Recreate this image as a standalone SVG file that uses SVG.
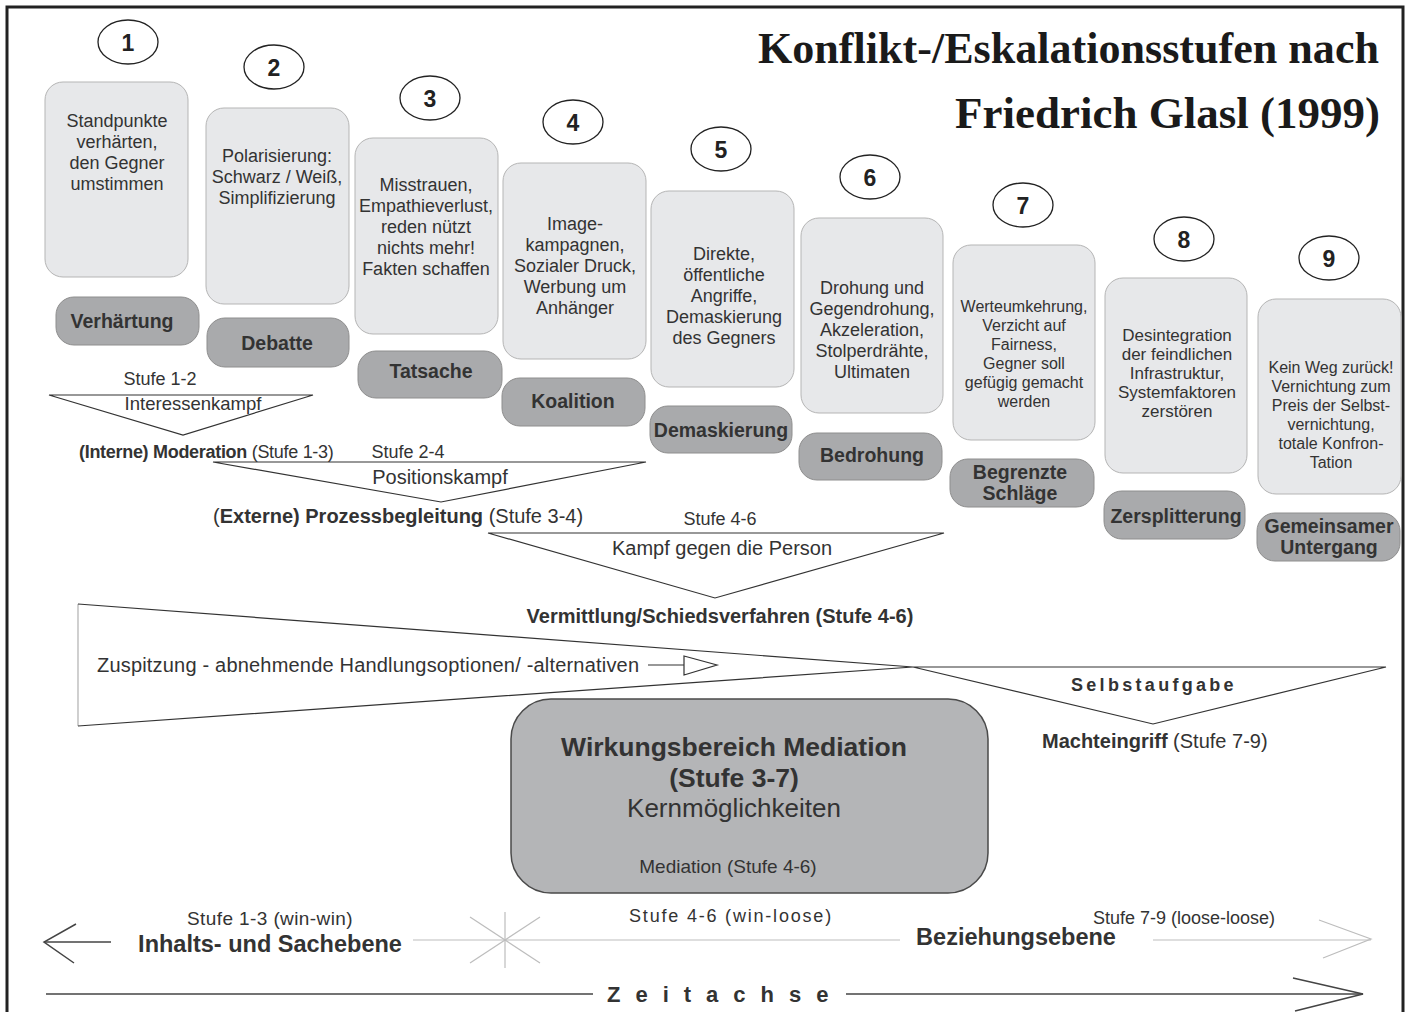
<svg xmlns="http://www.w3.org/2000/svg" width="1409" height="1012" viewBox="0 0 1409 1012">
<style>
text{font-family:"Liberation Sans",Arial,Helvetica,sans-serif;fill:#333}
.t{font-family:"Liberation Serif","Times New Roman",serif;font-weight:bold;font-size:45px;fill:#1a1a1a;text-anchor:end}
.num{font-weight:bold;font-size:23px;text-anchor:middle;fill:#222}
.ell{fill:#fff;stroke:#222;stroke-width:1.3}
.desc{fill:#e7e8ea;stroke:#b5b5b5;stroke-width:1}
.d18{font-size:18px;text-anchor:middle}
.d17{font-size:17px;text-anchor:middle}
.d16{font-size:16px;text-anchor:middle}
.lab{fill:#a9aaac;stroke:#8e8e8e;stroke-width:1}
.lt{font-size:19.5px;font-weight:bold;text-anchor:middle;fill:#333}
.tri{fill:none;stroke:#333;stroke-width:1.2}
.b{font-weight:bold}
.mid{text-anchor:middle}
.lg{stroke:#bdbdbd;stroke-width:1.2;fill:none}
.dk{stroke:#444;stroke-width:1.5;fill:none}
</style>

<rect x="7" y="7" width="1396" height="1020" fill="#fff" stroke="#222" stroke-width="3"/>

<g id="title">
<text class="t" x="1379" y="63" textLength="621" lengthAdjust="spacingAndGlyphs">Konflikt-/Eskalationsstufen nach</text>
<text class="t" x="1380" y="128">Friedrich Glasl (1999)</text>
</g>

<g id="stufe1">
<ellipse class="ell" cx="128" cy="42" rx="30" ry="22"/><text class="num" x="128" y="51">1</text>
<rect class="desc" x="45" y="82" width="143" height="195" rx="18"/>
<text class="d18" x="117"><tspan x="117" y="127">Standpunkte</tspan><tspan x="117" y="148">verhärten,</tspan><tspan x="117" y="169">den Gegner</tspan><tspan x="117" y="190">umstimmen</tspan></text>
<rect class="lab" x="56" y="297" width="143" height="48" rx="18"/><text class="lt" x="122" y="328">Verhärtung</text>
</g>

<g id="stufe2">
<ellipse class="ell" cx="274" cy="67" rx="30" ry="22"/><text class="num" x="274" y="76">2</text>
<rect class="desc" x="206" y="108" width="143" height="196" rx="18"/>
<text class="d18" x="277"><tspan x="277" y="162">Polarisierung:</tspan><tspan x="277" y="183">Schwarz / Weiß,</tspan><tspan x="277" y="204">Simplifizierung</tspan></text>
<rect class="lab" x="207" y="318" width="142" height="49" rx="18"/><text class="lt" x="277" y="350">Debatte</text>
</g>

<g id="stufe3">
<ellipse class="ell" cx="430" cy="98" rx="30" ry="22"/><text class="num" x="430" y="107">3</text>
<rect class="desc" x="355" y="138" width="143" height="196" rx="18"/>
<text class="d18" x="426"><tspan x="426" y="191">Misstrauen,</tspan><tspan x="426" y="212">Empathieverlust,</tspan><tspan x="426" y="233">reden nützt</tspan><tspan x="426" y="254">nichts mehr!</tspan><tspan x="426" y="275">Fakten schaffen</tspan></text>
<rect class="lab" x="358" y="351" width="144" height="47" rx="18"/><text class="lt" x="431" y="378">Tatsache</text>
</g>

<g id="stufe4">
<ellipse class="ell" cx="573" cy="122" rx="30" ry="22"/><text class="num" x="573" y="131">4</text>
<rect class="desc" x="503" y="163" width="143" height="196" rx="18"/>
<text class="d18" x="575"><tspan x="575" y="230">Image-</tspan><tspan x="575" y="251">kampagnen,</tspan><tspan x="575" y="272">Sozialer Druck,</tspan><tspan x="575" y="293">Werbung um</tspan><tspan x="575" y="314">Anhänger</tspan></text>
<rect class="lab" x="502" y="378" width="143" height="48" rx="18"/><text class="lt" x="573" y="408">Koalition</text>
</g>

<g id="stufe5">
<ellipse class="ell" cx="721" cy="149" rx="30" ry="22"/><text class="num" x="721" y="158">5</text>
<rect class="desc" x="651" y="191" width="143" height="196" rx="18"/>
<text class="d18" x="724"><tspan x="724" y="260">Direkte,</tspan><tspan x="724" y="281">öffentliche</tspan><tspan x="724" y="302">Angriffe,</tspan><tspan x="724" y="323">Demaskierung</tspan><tspan x="724" y="344">des Gegners</tspan></text>
<rect class="lab" x="650" y="406" width="142" height="47" rx="18"/><text class="lt" x="721" y="437">Demaskierung</text>
</g>

<g id="stufe6">
<ellipse class="ell" cx="870" cy="177" rx="30" ry="22"/><text class="num" x="870" y="186">6</text>
<rect class="desc" x="801" y="218" width="142" height="195" rx="18"/>
<text class="d18" x="872"><tspan x="872" y="294">Drohung und</tspan><tspan x="872" y="315">Gegendrohung,</tspan><tspan x="872" y="336">Akzeleration,</tspan><tspan x="872" y="357">Stolperdrähte,</tspan><tspan x="872" y="378">Ultimaten</tspan></text>
<rect class="lab" x="799" y="433" width="143" height="47" rx="18"/><text class="lt" x="872" y="462">Bedrohung</text>
</g>

<g id="stufe7">
<ellipse class="ell" cx="1023" cy="205" rx="30" ry="22"/><text class="num" x="1023" y="214">7</text>
<rect class="desc" x="953" y="245" width="142" height="195" rx="18"/>
<text class="d16" x="1024"><tspan x="1024" y="312">Werteumkehrung,</tspan><tspan x="1024" y="331">Verzicht auf</tspan><tspan x="1024" y="350">Fairness,</tspan><tspan x="1024" y="369">Gegner soll</tspan><tspan x="1024" y="388">gefügig gemacht</tspan><tspan x="1024" y="407">werden</tspan></text>
<rect class="lab" x="950" y="459" width="144" height="48" rx="18"/><text class="lt" x="1020"><tspan x="1020" y="479">Begrenzte</tspan><tspan x="1020" y="500">Schläge</tspan></text>
</g>

<g id="stufe8">
<ellipse class="ell" cx="1184" cy="239" rx="30" ry="22"/><text class="num" x="1184" y="248">8</text>
<rect class="desc" x="1105" y="278" width="142" height="195" rx="18"/>
<text class="d17" x="1177"><tspan x="1177" y="341">Desintegration</tspan><tspan x="1177" y="360">der feindlichen</tspan><tspan x="1177" y="379">Infrastruktur,</tspan><tspan x="1177" y="398">Systemfaktoren</tspan><tspan x="1177" y="417">zerstören</tspan></text>
<rect class="lab" x="1104" y="491" width="141" height="48" rx="18"/><text class="lt" x="1176" y="523">Zersplitterung</text>
</g>

<g id="stufe9">
<ellipse class="ell" cx="1329" cy="258" rx="30" ry="22"/><text class="num" x="1329" y="267">9</text>
<rect class="desc" x="1258" y="299" width="143" height="195" rx="18"/>
<text class="d16" x="1331"><tspan x="1331" y="373">Kein Weg zurück!</tspan><tspan x="1331" y="392">Vernichtung zum</tspan><tspan x="1331" y="411">Preis der Selbst-</tspan><tspan x="1331" y="430">vernichtung,</tspan><tspan x="1331" y="449">totale Konfron-</tspan><tspan x="1331" y="468">Tation</tspan></text>
<rect class="lab" x="1257" y="513" width="143" height="48" rx="18"/><text class="lt" x="1329"><tspan x="1329" y="533">Gemeinsamer</tspan><tspan x="1329" y="554">Untergang</tspan></text>
</g>

<g id="connectors">
<polygon class="tri" points="49,395 313,395 183,435"/>
<polygon class="tri" points="213,462 646,462 441,502"/>
<polygon class="tri" points="488,533 944,533 715,598"/>
<line x1="78" y1="604" x2="78" y2="726" stroke="#b0b0b0" stroke-width="1.2"/>
<polyline class="tri" points="78,604 913,667 78,726"/>
<polygon class="tri" points="913,667 1386,667 1153,724"/>
<line x1="648" y1="665" x2="684" y2="665" stroke="#333" stroke-width="1.2"/>
<polygon class="tri" points="684,656 717,665 684,675"/>
<polyline class="dk" points="76,924 44,942 74,963"/>
<line class="dk" x1="44" y1="942" x2="111" y2="942"/>
<line class="lg" x1="413" y1="940" x2="900" y2="940"/>
<line class="lg" x1="1153" y1="940" x2="1371" y2="940"/>
<polyline class="lg" points="1319,920 1371,939 1323,958"/>
<line class="lg" x1="505" y1="912" x2="505" y2="968"/>
<line class="lg" x1="470" y1="917" x2="540" y2="963"/>
<line class="lg" x1="540" y1="917" x2="470" y2="963"/>
<line class="dk" x1="46" y1="994" x2="593" y2="994"/>
<line class="dk" x1="846" y1="994" x2="1363" y2="994"/>
<polyline class="dk" points="1293,978 1363,994 1295,1011"/>
</g>

<g id="labels">
<text class="mid" x="160" y="385" font-size="18">Stufe 1-2</text>
<text class="mid" x="193" y="410" font-size="18.5">Interessenkampf</text>
<text x="79" y="458" font-size="18" letter-spacing="-0.3"><tspan class="b">(Interne) Moderation</tspan> (Stufe 1-3)</text>
<text class="mid" x="408" y="458" font-size="18">Stufe 2-4</text>
<text class="mid" x="440" y="484" font-size="20">Positionskampf</text>
<text x="213" y="523" font-size="20">(<tspan class="b">Externe) Prozessbegleitung</tspan> (Stufe 3-4)</text>
<text class="mid" x="720" y="525" font-size="18">Stufe 4-6</text>
<text class="mid" x="722" y="555" font-size="20">Kampf gegen die Person</text>
<text class="mid b" x="720" y="623" font-size="20">Vermittlung/Schiedsverfahren (Stufe 4-6)</text>
<text x="97" y="672" font-size="20" textLength="542" lengthAdjust="spacing">Zuspitzung - abnehmende Handlungsoptionen/ -alternativen</text>
<text class="b" x="1071" y="691" font-size="18" letter-spacing="3.3">Selbstaufgabe</text>
<text x="1042" y="748" font-size="20"><tspan class="b">Machteingriff</tspan> (Stufe 7-9)</text>
</g>

<g id="mediation">
<rect x="511" y="699" width="477" height="194" rx="40" fill="#b4b5b7" stroke="#4a4a4a" stroke-width="1.5"/>
<text class="mid b" x="734" y="756" font-size="26.5" fill="#3a3a3a">Wirkungsbereich Mediation</text>
<text class="mid b" x="734" y="787" font-size="26.5" fill="#3a3a3a">(Stufe 3-7)</text>
<text class="mid" x="734" y="817" font-size="26" fill="#3a3a3a">Kernmöglichkeiten</text>
<text class="mid" x="728" y="873" font-size="19" fill="#3a3a3a">Mediation (Stufe 4-6)</text>
</g>

<g id="axis">
<text class="mid" x="270" y="925" font-size="19" letter-spacing="0.4">Stufe 1-3 (win-win)</text>
<text class="mid b" x="270" y="952" font-size="23.5">Inhalts- und Sachebene</text>
<text class="mid" x="731" y="922" font-size="18" letter-spacing="1.8">Stufe 4-6 (win-loose)</text>
<text class="mid b" x="1016" y="945" font-size="23.5">Beziehungsebene</text>
<text class="mid" x="1184" y="924" font-size="18">Stufe 7-9 (loose-loose)</text>
<text class="b" x="607" y="1002" font-size="22" letter-spacing="15">Zeitachse</text>
</g>
</svg>
